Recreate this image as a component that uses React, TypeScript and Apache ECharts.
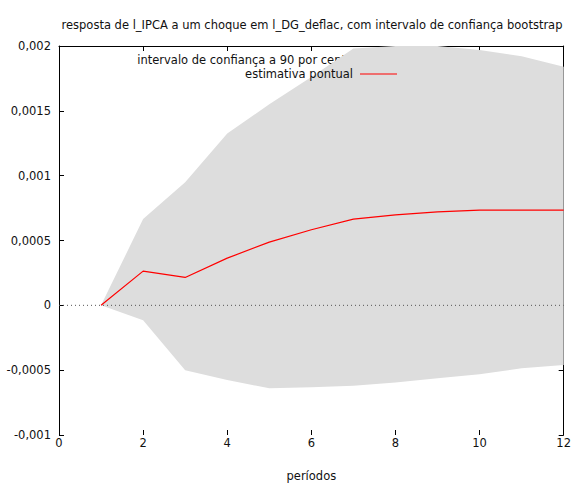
import React, { useEffect, useRef } from "react";
import * as echarts from "echarts";

const periods = [1, 2, 3, 4, 5, 6, 7, 8, 9, 10, 11, 12];
const pointEstimate = [0, 0.000264, 0.000215, 0.000364, 0.000487, 0.000583, 0.000665, 0.000698, 0.000721, 0.000734, 0.000735, 0.000735];
const lowerBound = [0, -0.000115, -0.0005, -0.000575, -0.00064, -0.000632, -0.00062, -0.000596, -0.000563, -0.000532, -0.000486, -0.00046];
const upperBound = [0, 0.000665, 0.00095, 0.001325, 0.00155, 0.00176, 0.00198, 0.002, 0.002, 0.00197, 0.00192, 0.00184];
const xRange = [0, 12];
const yRange = [-0.001, 0.002];
const xInterval = 2;
const yInterval = 0.0005;

const titleText = "resposta de l_IPCA a um choque em l_DG_deflac, com intervalo de confiança bootstrap";
const xName = "períodos";
const legendBand = "intervalo de confiança a 90 por cento";
const legendLine = "estimativa pontual";

const FONT = "DejaVu Sans";
const FS = 11.5;

function fmtY(v: number): string {
  const n = parseFloat(v.toFixed(6));
  return String(n).replace(".", ",");
}

export default function App() {
  const ref = useRef<HTMLDivElement>(null);
  useEffect(() => {
    document.body.style.margin = "0";
    if (!ref.current) return;
    const chart = echarts.init(ref.current, null, { renderer: "svg" });
    const tickStyle = { show: true, inside: true, length: 5, lineStyle: { color: "#000", width: 1 } };
    const option: any = {
      animation: false,
      backgroundColor: "#fff",
      grid: { left: 59, right: 10, top: 46, bottom: 50, containLabel: false },
      xAxis: [
        {
          type: "value",
          position: "bottom",
          min: xRange[0],
          max: xRange[1],
          interval: xInterval,
          axisLine: { show: false, onZero: false },
          axisTick: tickStyle,
          axisLabel: { margin: 2, color: "#111", fontSize: FS, fontFamily: FONT },
          splitLine: { show: false },
          name: xName,
          nameLocation: "middle",
          nameGap: 35,
          nameTextStyle: { color: "#111", fontSize: FS, fontFamily: FONT },
        },
        {
          type: "value",
          position: "top",
          min: xRange[0],
          max: xRange[1],
          interval: xInterval,
          axisLine: { show: true, onZero: false, lineStyle: { color: "#000", width: 1 } },
          axisTick: tickStyle,
          axisLabel: { show: false },
          splitLine: { show: false },
        },
      ],
      yAxis: [
        {
          type: "value",
          position: "left",
          min: yRange[0],
          max: yRange[1],
          interval: yInterval,
          axisLine: { show: true, onZero: false, lineStyle: { color: "#000", width: 1 } },
          axisTick: tickStyle,
          axisLabel: { margin: 8, color: "#111", fontSize: FS, fontFamily: FONT, formatter: fmtY },
          splitLine: { show: false },
        },
        {
          type: "value",
          position: "right",
          min: yRange[0],
          max: yRange[1],
          interval: yInterval,
          axisLine: { show: true, onZero: false, lineStyle: { color: "#000", width: 1 } },
          axisTick: tickStyle,
          axisLabel: { show: false },
          splitLine: { show: false },
        },
      ],
      graphic: [
        {
          type: "text",
          x: 312,
          y: 25,
          z: 10,
          silent: true,
          style: { text: titleText, fill: "#111", font: `${FS}px "${FONT}"`, align: "center", verticalAlign: "middle" },
        },
        {
          type: "text",
          x: 353,
          y: 60,
          z: 0,
          silent: true,
          style: { text: legendBand, fill: "#111", font: `${FS}px "${FONT}"`, align: "right", verticalAlign: "middle" },
        },
        {
          type: "rect",
          z: 0,
          silent: true,
          shape: { x: 360, y: 55, width: 37, height: 10 },
          style: { fill: "#dddddd" },
        },
        {
          type: "text",
          x: 353,
          y: 74,
          z: 10,
          silent: true,
          style: { text: legendLine, fill: "#111", font: `${FS}px "${FONT}"`, align: "right", verticalAlign: "middle" },
        },
        {
          type: "line",
          z: 10,
          silent: true,
          shape: { x1: 360, y1: 74, x2: 397, y2: 74 },
          style: { stroke: "#ff0000", lineWidth: 1.2 },
        },
      ],
      series: [
        {
          type: "custom",
          name: legendBand,
          xAxisIndex: 0,
          yAxisIndex: 0,
          z: 2,
          silent: true,
          data: [[periods[0], 0]],
          encode: { x: 0, y: 1 },
          renderItem: (params: any, api: any) => {
            const pts: number[][] = [];
            for (let i = 0; i < periods.length; i++) pts.push(api.coord([periods[i], upperBound[i]]));
            for (let i = periods.length - 1; i >= 0; i--) pts.push(api.coord([periods[i], lowerBound[i]]));
            return { type: "polygon", shape: { points: pts }, style: { fill: "#dddddd", stroke: "none" } };
          },
        },
        {
          type: "line",
          name: "zero",
          xAxisIndex: 0,
          yAxisIndex: 0,
          z: 3,
          silent: true,
          symbol: "none",
          data: [[xRange[0], 0], [xRange[1], 0]],
          lineStyle: { color: "#555", width: 1, type: [1, 3] },
        },
        {
          type: "line",
          name: legendLine,
          xAxisIndex: 0,
          yAxisIndex: 0,
          z: 4,
          silent: true,
          symbol: "none",
          data: periods.map((p, i) => [p, pointEstimate[i]]),
          lineStyle: { color: "#ff0000", width: 1.2 },
        },
      ],
    };
    chart.setOption(option);
    return () => chart.dispose();
  }, []);
  return <div ref={ref} style={{ width: 574, height: 487 }} />;
}
